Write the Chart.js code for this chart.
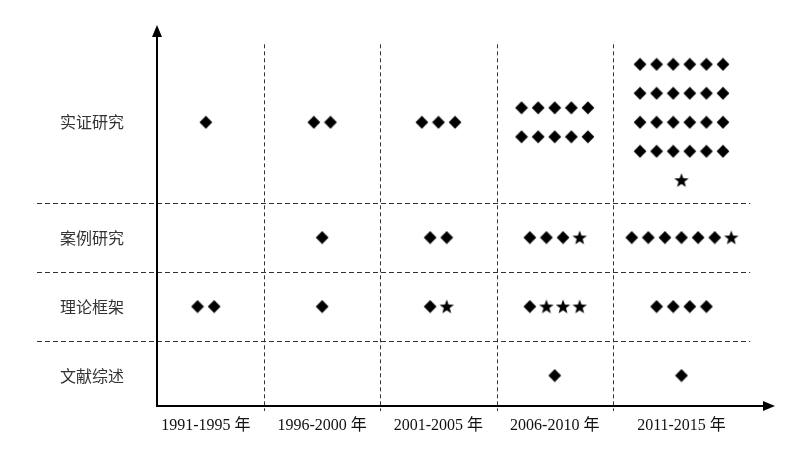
<!DOCTYPE html>
<html><head><meta charset="utf-8">
<script src="https://cdn.jsdelivr.net/npm/chart.js@4/dist/chart.umd.min.js"></script>
<style>html,body{margin:0;padding:0;background:#fff}</style>
</head><body>
<canvas id="c" width="798" height="451"></canvas>
<script>
// ---- data ----
const periods = ['1991-1995 年', '1996-2000 年', '2001-2005 年', '2006-2010 年', '2011-2015 年'];
const methods = ['实证研究', '案例研究', '理论框架', '文献综述']; // top to bottom
// number of diamond (◆) marks per period
const empiricalDiamonds = [1, 2, 3, 10, 24];
const caseDiamonds      = [0, 1, 2, 3, 6];
const theoryDiamonds    = [2, 1, 1, 1, 4];
const reviewDiamonds    = [0, 0, 0, 1, 1];
// number of star (★) marks per period
const empiricalStars = [0, 0, 0, 0, 1];
const caseStars      = [0, 0, 0, 1, 1];
const theoryStars    = [0, 0, 1, 3, 0];
const reviewStars    = [0, 0, 0, 0, 0];

const diamondRows = [empiricalDiamonds, caseDiamonds, theoryDiamonds, reviewDiamonds];
const starRows = [empiricalStars, caseStars, theoryStars, reviewStars];

// ---- layout (scale units) ----
const colEdges = [0.5, 1.5, 2.5, 3.5, 4.5, 5.68];
const rowEdges = [0.5, 1.5, 2.5, 3.5, 5.84]; // bottom -> top
const DX = 0.1427, DY = 0.42;
const colCenter = i => (colEdges[i] + colEdges[i + 1]) / 2;
const rowCenter = m => { const j = methods.length - 1 - m; return (rowEdges[j] + rowEdges[j + 1]) / 2; };

function cellLines(d, s) {
  if (d + s <= 7) return [[...Array(d).fill('d'), ...Array(s).fill('s')]];
  const lines = [];
  const nl = Math.ceil(d / 6), per = Math.ceil(d / nl);
  let rem = d;
  while (rem > 0) { const n = Math.min(per, rem); lines.push(Array(n).fill('d')); rem -= n; }
  if (s) lines.push(Array(s).fill('s'));
  return lines;
}

const diamondPts = [], starPts = [];
methods.forEach((m, mi) => {
  periods.forEach((p, pi) => {
    const lines = cellLines(diamondRows[mi][pi], starRows[mi][pi]);
    const L = lines.length;
    lines.forEach((line, k) => {
      const yv = rowCenter(mi) + ((L - 1) / 2 - k) * DY;
      line.forEach((t, idx) => {
        const xv = colCenter(pi) + (idx - (line.length - 1) / 2) * DX;
        (t === 'd' ? diamondPts : starPts).push({x: xv, y: yv});
      });
    });
  });
});

// ---- marker images ----
function diamondImg() {
  const c = document.createElement('canvas'); c.width = 14; c.height = 14;
  const g = c.getContext('2d'); g.fillStyle = '#000';
  g.beginPath(); g.moveTo(7, 0.6); g.lineTo(13.4, 7); g.lineTo(7, 13.4); g.lineTo(0.6, 7); g.closePath(); g.fill();
  return c;
}
function starImg() {
  const c = document.createElement('canvas'); c.width = 18; c.height = 18;
  const g = c.getContext('2d'); g.fillStyle = '#000';
  const cx = 9, cy = 9.6, R = 7.6, r = 3.1;
  g.beginPath();
  for (let i = 0; i < 10; i++) {
    const a = -Math.PI / 2 + i * Math.PI / 5;
    const rr = i % 2 ? r : R;
    const px = cx + rr * Math.cos(a), py = cy + rr * Math.sin(a);
    i ? g.lineTo(px, py) : g.moveTo(px, py);
  }
  g.closePath(); g.fill();
  return c;
}

const framePlugin = {
  id: 'frame',
  beforeDatasetsDraw(chart) {
    const {ctx, chartArea: a, scales: {x, y}} = chart;
    ctx.save();
    ctx.strokeStyle = '#333'; ctx.lineWidth = 1;
    // horizontal dashed separators
    ctx.setLineDash([5, 3]);
    [1.5, 2.5, 3.5].forEach(v => {
      const py = Math.round(y.getPixelForValue(v)) + 0.5;
      ctx.beginPath(); ctx.moveTo(a.left - 120, py); ctx.lineTo(x.getPixelForValue(colEdges[5]), py); ctx.stroke();
    });
    // vertical dashed separators
    ctx.setLineDash([4, 3]);
    [1.5, 2.5, 3.5, 4.5].forEach(v => {
      const px = Math.round(x.getPixelForValue(v)) + 0.5;
      ctx.beginPath(); ctx.moveTo(px, y.getPixelForValue(5.8)); ctx.lineTo(px, a.bottom + 5); ctx.stroke();
    });
    ctx.setLineDash([]);
    // axes
    ctx.strokeStyle = '#000'; ctx.fillStyle = '#000'; ctx.lineWidth = 2;
    ctx.beginPath(); ctx.moveTo(a.left, a.bottom); ctx.lineTo(a.left, a.top + 8); ctx.stroke();
    ctx.beginPath(); ctx.moveTo(a.left - 1, a.bottom); ctx.lineTo(a.right - 8, a.bottom); ctx.stroke();
    ctx.beginPath(); ctx.moveTo(a.left, a.top); ctx.lineTo(a.left - 5, a.top + 12); ctx.lineTo(a.left + 5, a.top + 12); ctx.closePath(); ctx.fill();
    ctx.beginPath(); ctx.moveTo(a.right, a.bottom); ctx.lineTo(a.right - 12, a.bottom - 5); ctx.lineTo(a.right - 12, a.bottom + 5); ctx.closePath(); ctx.fill();
    ctx.restore();
  }
};

const noPad = s => { s.paddingTop = 0; s.paddingBottom = 0; s.paddingLeft = 0; s.paddingRight = 0; };

new Chart(document.getElementById('c'), {
  type: 'scatter',
  data: {
    datasets: [
      {label: '◆', data: diamondPts, pointStyle: diamondImg(), pointRadius: 7},
      {label: '★', data: starPts, pointStyle: starImg(), pointRadius: 7}
    ]
  },
  options: {
    responsive: false, animation: false, events: [],
    layout: {padding: {top: 25, right: 23, left: 0, bottom: 0}},
    plugins: {legend: {display: false}, tooltip: {enabled: false}},
    scales: {
      x: {
        type: 'linear', min: 0.58, max: 5.894,
        afterBuildTicks: s => { s.ticks = periods.map((p, i) => ({value: colCenter(i)})); },
        afterFit: s => { s.height = 45; noPad(s); },
        ticks: {autoSkip: false, maxRotation: 0, padding: 10, color: '#111',
          font: {family: '"Liberation Serif", "Noto Sans CJK SC", serif', size: 16},
          callback: (v, i) => periods[i]},
        grid: {display: false, drawTicks: false}, border: {display: false}
      },
      y: {
        type: 'linear', min: 0.558, max: 6.08,
        afterBuildTicks: s => { s.ticks = methods.map((m, i) => ({value: rowCenter(i)})); },
        afterFit: s => { s.width = 157; noPad(s); },
        ticks: {autoSkip: false, padding: 33, color: '#333',
          font: {family: '"Noto Sans CJK SC", sans-serif', size: 16},
          callback: (v, i) => methods[i]},
        grid: {display: false, drawTicks: false}, border: {display: false}
      }
    }
  },
  plugins: [framePlugin]
});
</script>
</body></html>
